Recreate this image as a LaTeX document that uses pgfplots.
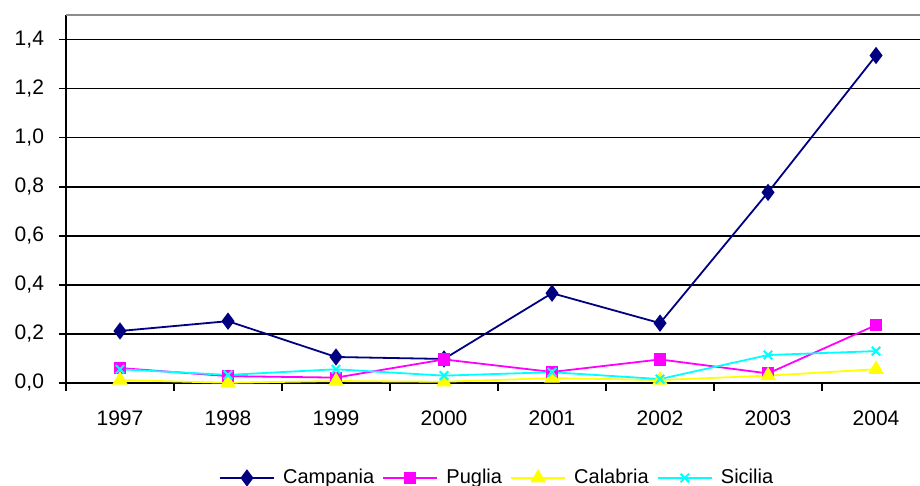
\documentclass[border=0pt]{standalone}
\usepackage{pgfplots}
\pgfplotsset{compat=1.18}
\usepackage{fontspec}
\setmainfont{Liberation Sans}
\definecolor{camp}{HTML}{000080}
\definecolor{pug}{HTML}{FF00FF}
\definecolor{cal}{HTML}{FFFF00}
\definecolor{sic}{HTML}{00FFFF}
\begin{document}
\begin{tikzpicture}
\begin{axis}[
  at={(0,0)}, anchor=south west,
  scale only axis, width=427pt, height=184pt,
  xmin=-0.5, xmax=7.407, ymin=0, ymax=1.5,
  axis lines*=left, axis line style={-, black, line width=0.9pt},
  xtick={0,...,7}, xticklabels={1997,1998,1999,2000,2001,2002,2003,2004},
  major x tick style={draw=none},
  minor xtick={-0.5,0.5,...,7.5},
  minor x tick style={black, line width=0.8pt},
  minor tick length=4pt,
  ytick={0,0.2,...,1.41},
  tick align=outside, major tick length=3.5pt,
  y tick style={black, line width=0.8pt},
  ymajorgrids, grid style={black, line width=0.8pt},
  yticklabel style={/pgf/number format/use comma, /pgf/number format/fixed, /pgf/number format/fixed zerofill, /pgf/number format/precision=1, xshift=-4pt},
  /pgf/number format/assume math mode=true,
  tick label style={font=\fontsize{10.5}{12}\selectfont},
  xticklabel style={yshift=-7pt},
  clip=false,
  legend columns=4,
  legend style={at={(0.506,-0.258)}, anchor=center, draw=none, fill=none,
    font=\fontsize{10}{12}\selectfont, column sep=2.1pt, inner sep=0pt,
    nodes={inner xsep=2pt}},
  legend image code/.code={\draw[mark repeat=2,mark phase=2,#1] plot coordinates {(0pt,0pt) (13.5pt,0pt) (27pt,0pt)};},
  after end axis/.code={\draw[black!45, line width=0.8pt] (rel axis cs:0,1) -- (rel axis cs:1,1);},
]
\addplot[camp, line width=0.9pt, mark=diamond*, mark size=3.6pt, mark options={fill=camp}] coordinates {
(0,0.212) (1,0.252) (2,0.106) (3,0.098) (4,0.366) (5,0.244) (6,0.777) (7,1.335)};
\addplot[pug, line width=0.9pt, mark=square*, mark size=2.6pt, mark options={fill=pug}] coordinates {
(0,0.061) (1,0.028) (2,0.022) (3,0.096) (4,0.045) (5,0.096) (6,0.039) (7,0.236)};
\addplot[cal, line width=0.9pt, mark=triangle*, mark size=3.6pt, mark options={fill=cal}] coordinates {
(0,0.012) (1,0.001) (2,0.008) (3,0.005) (4,0.020) (5,0.012) (6,0.030) (7,0.056)};
\addplot[sic, line width=0.9pt, mark=x, mark size=3pt, mark options={line width=1pt}] coordinates {
(0,0.056) (1,0.033) (2,0.056) (3,0.030) (4,0.044) (5,0.016) (6,0.114) (7,0.130)};
\legend{Campania, Puglia, Calabria, Sicilia}
\end{axis}
\pgfresetboundingbox
\path[use as bounding box] (-33pt,-51.5pt) rectangle (427pt,191.5pt);
\end{tikzpicture}
\end{document}
